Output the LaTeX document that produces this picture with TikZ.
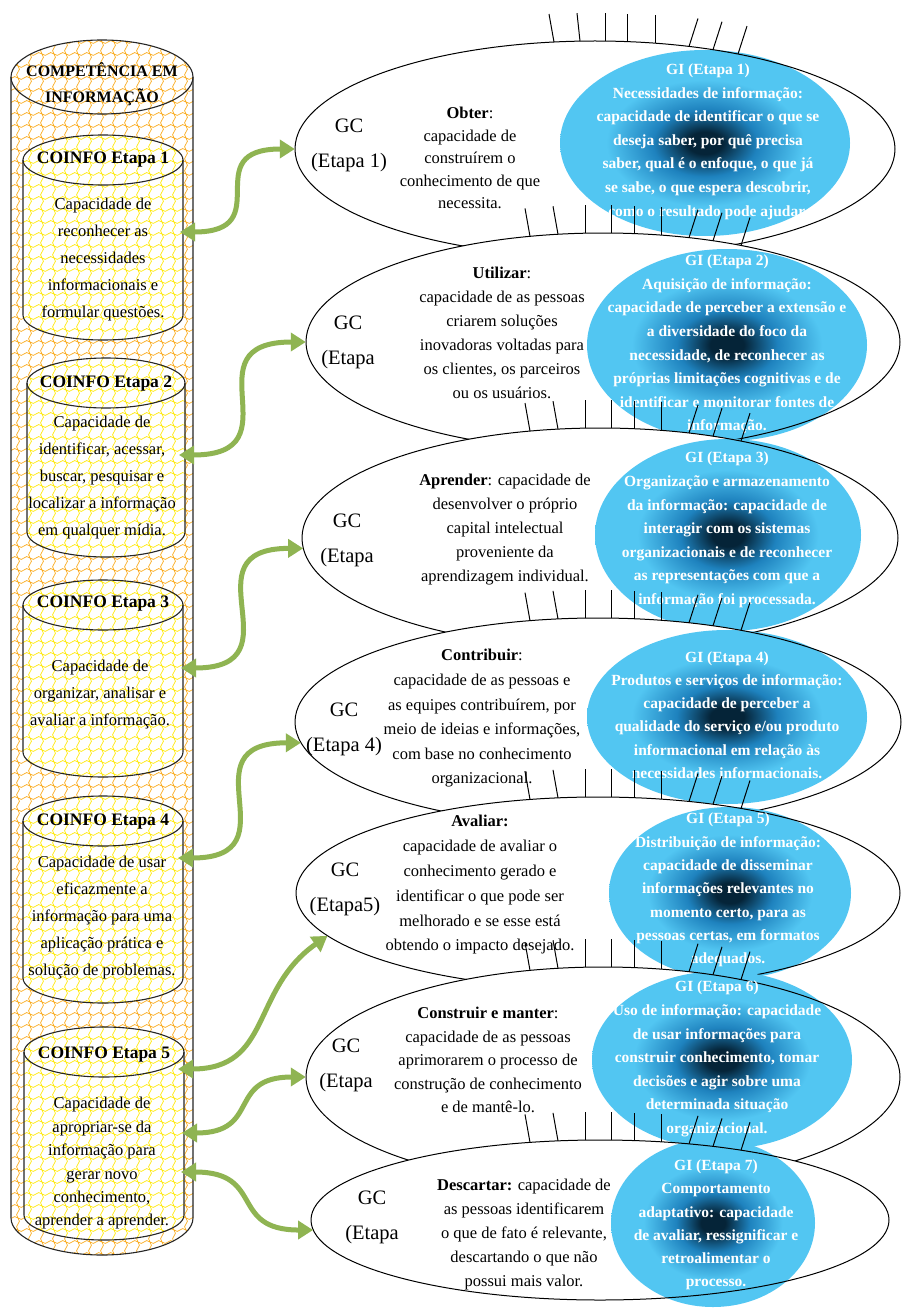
\documentclass[tikz,border=0pt]{standalone}
\usepackage{fontspec}
\setmainfont{Liberation Serif}
\usetikzlibrary{shapes.geometric,arrows.meta,patterns}
\definecolor{gigreen}{RGB}{143,180,82}
\definecolor{giedge}{RGB}{82,198,242}
\definecolor{gimid}{RGB}{30,130,190}
\definecolor{gidark}{RGB}{5,36,56}
\definecolor{patorange}{RGB}{250,168,20}
\definecolor{patyellow}{RGB}{255,232,0}
\pgfdeclarepatternformonly{wavy}{\pgfqpoint{-1pt}{-1pt}}{\pgfqpoint{13pt}{13pt}}{\pgfqpoint{12pt}{12pt}}{%
  \pgfsetlinewidth{0.65pt}%
  \pgfpathmoveto{\pgfqpoint{0pt}{6pt}}%
  \pgfpathcurveto{\pgfqpoint{3pt}{11pt}}{\pgfqpoint{9pt}{1pt}}{\pgfqpoint{12pt}{6pt}}%
  \pgfpathmoveto{\pgfqpoint{6pt}{0pt}}%
  \pgfpathcurveto{\pgfqpoint{11pt}{3pt}}{\pgfqpoint{1pt}{9pt}}{\pgfqpoint{6pt}{12pt}}%
  \pgfusepath{stroke}%
}
\pgfdeclareradialshading{gishade}{\pgfpointorigin}{color(0bp)=(gidark); color(3bp)=(gidark); color(9bp)=(gimid); color(17bp)=(giedge); color(25bp)=(giedge); color(50bp)=(giedge)}
\newcommand{\tickrow}[4]{%
  \foreach \tkX/\tkS in {530/-5,558/-5,585/0,611/0,634/0,661/0,689/9,713/9,741/9}{%
    \pgfmathsetmacro{\tkY}{#2-#4*sqrt(1-((\tkX-#1)/#3)^2)}%
    \draw[tickln] (\tkX,\tkY) -- ++(\tkS,-28);%
  }}
\newcommand{\cylshape}[6]{%
  \fill[white] (#1-#2,#3) -- (#1-#2,#4) arc[start angle=180,end angle=360,x radius=#2*1pt,y radius=#5*1pt] -- (#1+#2,#3) arc[start angle=0,end angle=180,x radius=#2*1pt,y radius=#5*1pt] -- cycle;
  \fill[pattern=wavy,pattern color=#6] (#1-#2,#3) -- (#1-#2,#4) arc[start angle=180,end angle=360,x radius=#2*1pt,y radius=#5*1pt] -- (#1+#2,#3) arc[start angle=0,end angle=180,x radius=#2*1pt,y radius=#5*1pt] -- cycle;
  \draw[cylline] (#1-#2,#3) -- (#1-#2,#4) arc[start angle=180,end angle=360,x radius=#2*1pt,y radius=#5*1pt] -- (#1+#2,#3);
  \draw[cylline] (#1,#3) ellipse[x radius=#2*1pt,y radius=#5*1pt];
}
\begin{document}
\begin{tikzpicture}[x=1pt,y=-1pt,
  cylline/.style={draw=black!85,line width=1.1pt},
  tickln/.style={draw=black,line width=1pt},
  gcell/.style={ellipse,fill=white,inner sep=0pt},
  eline/.style={draw=black,line width=1pt},
  gicirc/.style={ellipse,inner sep=0pt,shading=gishade},
  garrow/.style={draw=gigreen,line width=5pt,arrows={Triangle[length=15pt,width=18pt]-Triangle[length=15pt,width=18pt]}},
  cyltext/.style={align=center,inner sep=0pt,font=\fontsize{16.5}{27}\selectfont},
  cyllabel/.style={align=center,inner sep=0pt,font=\fontsize{17.5}{22}\selectfont\bfseries},
  gctext/.style={align=center,inner sep=0pt,font=\fontsize{20.5}{35}\selectfont},
  midtext/.style={align=center,inner sep=0pt,font=\fontsize{16.5}{24}\selectfont},
  gitext/.style={align=center,inner sep=0pt,text=white,font=\fontsize{15.5}{23.6}\selectfont\bfseries}]
\useasboundingbox (0,0) rectangle (902,1308);
\fill[white] (0,0) rectangle (902,1308);
% left column cylinders
\cylshape{102}{91}{77}{1218}{37}{patorange}
\cylshape{103}{80}{160}{315}{25}{patyellow}
\cylshape{106}{79}{383}{532}{25}{patyellow}
\cylshape{103}{80}{605}{752}{25}{patyellow}
\cylshape{103}{80}{821}{978}{25}{patyellow}
\cylshape{104}{80}{1052}{1215}{25}{patyellow}
\node[cyllabel,font=\fontsize{16}{26}\selectfont\bfseries] (top) at (102,84) {COMPETÊNCIA EM\\INFORMAÇÃO};
\node[cyllabel] (l1) at (103,160) {COINFO Etapa 1};
\node[cyllabel] (l2) at (106,384) {COINFO Etapa 2};
\node[cyllabel] (l3) at (103,604) {COINFO Etapa 3};
\node[cyllabel] (l4) at (103,822) {COINFO Etapa 4};
\node[cyllabel] (l5) at (104,1055) {COINFO Etapa 5};
\node[cyltext] (c1) at (103,260) {Capacidade de\\reconhecer as\\necessidades\\informacionais e\\formular questões.};
\node[cyltext] (c2) at (102,478) {Capacidade de\\identificar, acessar,\\buscar, pesquisar e\\localizar a informação\\em qualquer mídia.};
\node[cyltext] (c3) at (100,695) {Capacidade de\\organizar, analisar e\\avaliar a informação.};
\node[cyltext] (c4) at (102,917.5) {Capacidade de usar\\eficazmente a\\informação para uma\\aplicação prática e\\solução de problemas.};
\node[cyltext,font=\fontsize{16.5}{23.4}\selectfont] (c5) at (102,1163.5) {Capacidade de\\apropriar-se da\\informação para\\gerar novo\\conhecimento,\\aprender a aprender.};
% stage 1
\node[gcell,minimum width=600pt,minimum height=216pt] (E1) at (595,149) {};
\node[gicirc,minimum width=290pt,minimum height=186pt] (G1) at (705,143) {};
\draw[eline] (E1.center) ellipse[x radius=300pt,y radius=108pt];
\foreach \tkX/\tkS in {554/-5,580/-3,605/0,627/0,655/0,689/9,713/9,738/9}{%
  \pgfmathsetmacro{\tkY}{149-108*sqrt(1-((\tkX-595)/300)^2)}%
  \draw[tickln] (\tkX,\tkY) -- ++(\tkS,-28);}
\node[gctext] (gc1) at (349,145.5) {GC\\(Etapa 1)};
\node[midtext,font=\fontsize{16.5}{22.5}\selectfont] (m1) at (470,158) {\textbf{Obter}:\\capacidade de\\construírem o\\conhecimento de que\\necessita.};
\node[gitext] (t1) at (708,141.5) {GI (Etapa 1)\\Necessidades de informação:\\capacidade de identificar o que se\\deseja saber, por quê precisa\\saber, qual é o enfoque, o que já\\se sabe, o que espera descobrir,\\como o resultado pode ajudar.};
% stage 2
\node[gcell,minimum width=594pt,minimum height=218pt] (E2) at (603,342) {};
\node[gicirc,minimum width=280pt,minimum height=192pt] (G2) at (727,345) {};
\draw[eline] (E2.center) ellipse[x radius=297pt,y radius=109pt];
\tickrow{603}{342}{297}{109}
\node[gctext] (gc2) at (348,342.5) {GC\\(Etapa};
\node[midtext] (m2) at (502,333) {\textbf{Utilizar}:\\capacidade de as pessoas\\criarem soluções\\inovadoras voltadas para\\os clientes, os parceiros\\ou os usuários.};
\node[gitext] (t2) at (727,344.5) {GI (Etapa 2)\\Aquisição de informação:\\capacidade de perceber a extensão e\\a diversidade do foco da\\necessidade, de reconhecer as\\próprias limitações cognitivas e de\\identificar e monitorar fontes de\\informação.};
% stage 3
\node[gcell,minimum width=596pt,minimum height=220pt] (E3) at (600,538) {};
\node[gicirc,minimum width=266pt,minimum height=192pt] (G3) at (728,535) {};
\draw[eline] (E3.center) ellipse[x radius=298pt,y radius=110pt];
\tickrow{600}{538}{298}{110}
\node[gctext] (gc3) at (347,540.5) {GC\\(Etapa};
\node[midtext] (m3) at (505,530) {\textbf{Aprender}: capacidade de\\desenvolver o próprio\\capital intelectual\\proveniente da\\aprendizagem individual.};
\node[gitext] (t3) at (727,530) {GI (Etapa 3)\\Organização e armazenamento\\da informação: capacidade de\\interagir com os sistemas\\organizacionais e de reconhecer\\as representações com que a\\informação foi processada.};
% stage 4
\node[gcell,minimum width=606pt,minimum height=208pt] (E4) at (598,722) {};
\node[gicirc,minimum width=280pt,minimum height=174pt] (G4) at (727,717) {};
\draw[eline] (E4.center) ellipse[x radius=303pt,y radius=104pt];
\tickrow{598}{722}{303}{104}
\node[gctext] (gc4) at (344,729) {GC\\(Etapa 4)};
\node[midtext,font=\fontsize{16.5}{24.6}\selectfont] (m4) at (482,718.5) {\textbf{Contribuir}:\\capacidade de as pessoas e\\as equipes contribuírem, por\\meio de ideias e informações,\\com base no conhecimento\\organizacional.};
\node[gitext,font=\fontsize{15.5}{23.2}\selectfont\bfseries] (t4) at (727,715) {GI (Etapa 4)\\Produtos e serviços de informação:\\capacidade de perceber a\\qualidade do serviço e/ou produto\\informacional em relação às\\necessidades informacionais.};
% stage 5
\node[gcell,minimum width=604pt,minimum height=192pt] (E5) at (598,893) {};
\node[gicirc,minimum width=242pt,minimum height=172pt] (G5) at (730,893) {};
\draw[eline] (E5.center) ellipse[x radius=302pt,y radius=96pt];
\tickrow{598}{893}{302}{96}
\node[gctext] (gc5) at (345,889) {GC\\(Etapa5)};
\node[midtext,font=\fontsize{16.5}{24.8}\selectfont] (m5) at (480,885) {\textbf{Avaliar:}\\capacidade de avaliar o\\conhecimento gerado e\\identificar o que pode ser\\melhorado e se esse está\\obtendo o impacto desejado.};
\node[gitext,font=\fontsize{15.5}{23.3}\selectfont\bfseries] (t5) at (728,890) {GI (Etapa 5)\\Distribuição de informação:\\capacidade de disseminar\\informações relevantes no\\momento certo, para as\\pessoas certas, em formatos\\adequados.};
% stage 6
\node[gcell,minimum width=594pt,minimum height=220pt] (E6) at (603,1077) {};
\node[gicirc,minimum width=260pt,minimum height=178pt] (G6) at (722,1060) {};
\draw[eline] (E6.center) ellipse[x radius=297pt,y radius=110pt];
\tickrow{603}{1077}{297}{110}
\node[gctext] (gc6) at (346,1065) {GC\\(Etapa};
\node[midtext,font=\fontsize{16.5}{23.5}\selectfont] (m6) at (488,1060) {\textbf{Construir e manter}:\\capacidade de as pessoas\\aprimorarem o processo de\\construção de conhecimento\\e de mantê-lo.};
\node[gitext] (t6) at (717,1059) {GI (Etapa 6)\\Uso de informação: capacidade\\de usar informações para\\construir conhecimento, tomar\\decisões e agir sobre uma\\determinada situação\\organizacional.};
% stage 7
\node[gcell,minimum width=578pt,minimum height=160pt] (E7) at (600,1220) {};
\node[gicirc,minimum width=204pt,minimum height=168pt] (G7) at (713,1223) {};
\draw[eline] (E7.center) ellipse[x radius=289pt,y radius=80pt];
\tickrow{600}{1220}{289}{80}
\node[gctext] (gc7) at (372,1217) {GC\\(Etapa};
\node[midtext] (m7) at (524,1235) {\textbf{Descartar:} capacidade de\\as pessoas identificarem\\o que de fato é relevante,\\descartando o que não\\possui mais valor.};
\node[gitext,font=\fontsize{15.5}{23.2}\selectfont\bfseries] (t7) at (716,1225) {GI (Etapa 7)\\Comportamento\\adaptativo: capacidade\\de avaliar, ressignificar e\\retroalimentar o\\processo.};
% arrows
\coordinate (a1) at (180,232);
\coordinate (a2) at (179,455);
\coordinate (a3) at (181,668);
\coordinate (a4) at (178,858);
\coordinate (a5) at (178,1069);
\coordinate (a6) at (182,1133);
\coordinate (a7) at (181,1172);
\draw[garrow] (a1) to[out=0,in=180,looseness=1.8] (E1.west);
\draw[garrow] (a2) to[out=0,in=180,looseness=1.8] (E2.west);
\draw[garrow] (a3) to[out=0,in=180,looseness=1.8] (E3.182);
\draw[garrow] (a4) to[out=0,in=180,looseness=1.8] (E4.184);
\draw[garrow] (a5) to[out=0,in=215,looseness=1.2] (E5.189);
\draw[garrow] (a6) to[out=0,in=180,looseness=1.5] (E6.west);
\draw[garrow] (a7) to[out=0,in=180,looseness=1.5] (E7.182);
\end{tikzpicture}
\end{document}
